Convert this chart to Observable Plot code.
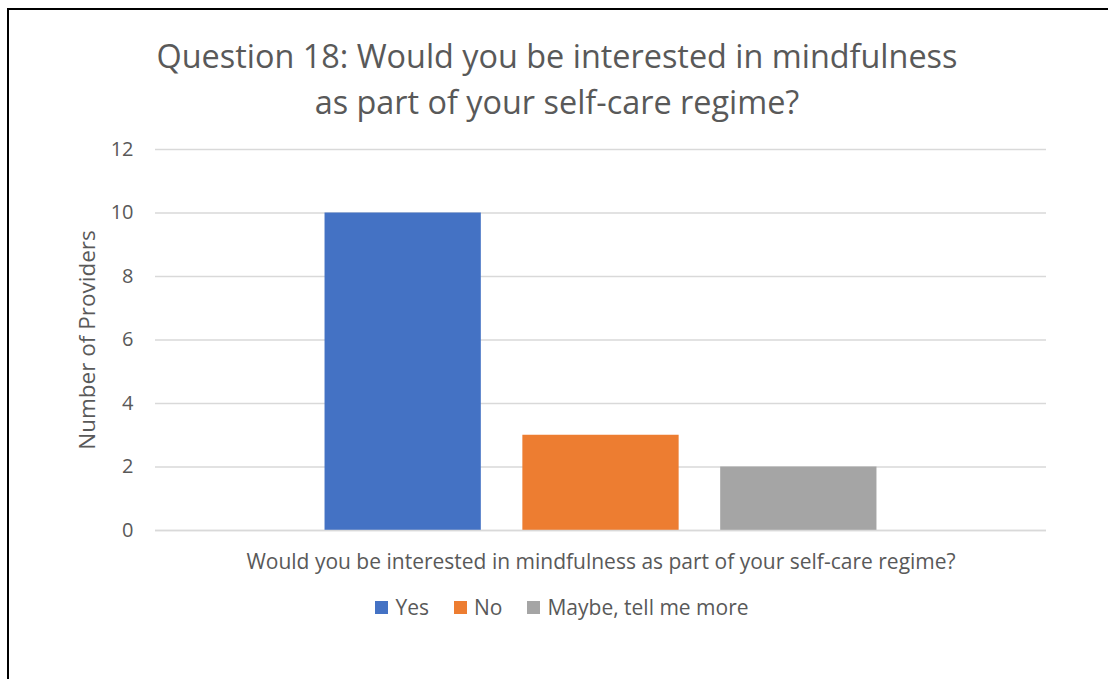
<!DOCTYPE html>
<html>
<head>
<meta charset="utf-8">
<script src="https://cdn.jsdelivr.net/npm/d3@7"></script>
<script src="https://cdn.jsdelivr.net/npm/@observablehq/plot@0.6"></script>
<style>
  html, body { margin: 0; padding: 0; background: #fff; }
  #wrap { position: relative; width: 1108px; height: 679px; overflow: hidden; font-family: "Open Sans", sans-serif; color: #595959; }
  #frame { position: absolute; left: 7px; top: 8px; width: 1200px; height: 800px; border-top: 2px solid #000; border-left: 2px solid #000; }
  #title { position: absolute; left: 0; width: 1114px; top: 32px; text-align: center; font-size: 32.4px; line-height: 46px; color: #595959; }
  #chart { position: absolute; left: 0; top: 0; }
  #legend { position: absolute; left: 0; width: 1124px; top: 593px; display: flex; justify-content: center; gap: 25px; font-size: 21px; color: #595959; }
  #legend .item { display: flex; align-items: center; gap: 7px; }
  #legend .sw { width: 13px; height: 13px; display: inline-block; }
</style>
</head>
<body>
<div id="wrap">
  <div id="frame"></div>
  <div id="chart"></div>
  <div id="title">Question 18: Would you be interested in mindfulness<br>as part of your self-care regime?</div>
  <div id="legend"></div>
</div>
<script>
const series = ["Yes", "No", "Maybe, tell me more"];
const values = [10, 3, 2];
const colors = ["#4472C4", "#ED7D31", "#A5A5A5"];
const yTicks = [0, 2, 4, 6, 8, 10, 12];
const xTitle = "Would you be interested in mindfulness as part of your self-care regime?";
const yTitle = "Number of Providers";

const data = series.map((s, i) => ({series: s, value: values[i]}));

const chart = Plot.plot({
  width: 1108,
  height: 600,
  marginTop: 149,
  marginBottom: 70,
  marginLeft: 155,
  marginRight: 62,
  style: {fontFamily: "Open Sans, sans-serif", color: "#595959", background: "transparent"},
  x: {domain: series, paddingInner: 0.21, paddingOuter: 0.857, round: false},
  y: {domain: [0, 12]},
  color: {domain: series, range: colors},
  marks: [
    Plot.gridY(yTicks, {stroke: "#D9D9D9", strokeOpacity: 1, strokeWidth: 1.3}),
    Plot.barY(data, {x: "series", y: "value", fill: "series"}),
    Plot.ruleY([0], {stroke: "#D9D9D9", strokeWidth: 1.3}),
    Plot.axisY({ticks: yTicks, tickSize: 0, tickPadding: 22, fontSize: 20, label: null, fill: "#595959"}),
    Plot.axisY({ticks: [], label: yTitle, labelAnchor: "center", labelArrow: "none", labelOffset: 76, fontSize: 22.5, fill: "#595959"}),
    Plot.axisX({tickSize: 0, tickFormat: () => "", label: xTitle, labelAnchor: "center", labelArrow: "none", labelOffset: 38, fontSize: 21, fill: "#595959"})
  ]
});
document.getElementById("chart").appendChild(chart);

const legend = document.getElementById("legend");
series.forEach((s, i) => {
  const item = document.createElement("span");
  item.className = "item";
  const sw = document.createElement("span");
  sw.className = "sw";
  sw.style.background = colors[i];
  item.appendChild(sw);
  item.appendChild(document.createTextNode(s));
  legend.appendChild(item);
});
</script>
</body>
</html>
